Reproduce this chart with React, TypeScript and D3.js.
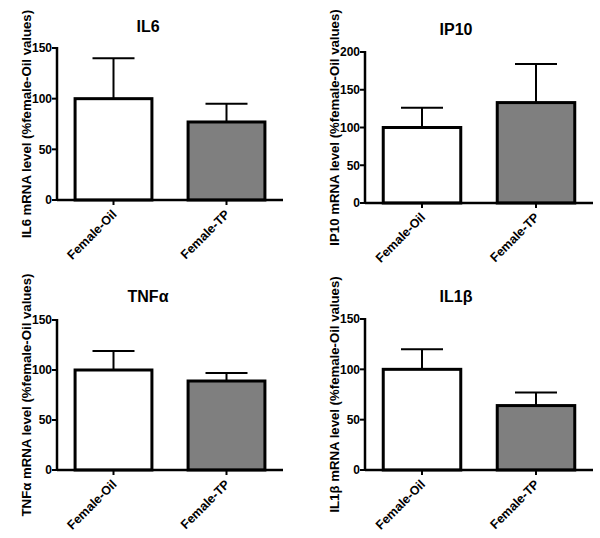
import React from "react";
import * as d3 from "d3";

const categories = ["Female-Oil", "Female-TP"];
const titles = ["IL6", "IP10", "TNFα", "IL1β"];
const yLabels = [
  "IL6 mRNA level (%female-Oil values)",
  "IP10 mRNA level (%female-Oil values)",
  "TNFα mRNA level (%female-Oil values)",
  "IL1β mRNA level (%female-Oil values)",
];
const il6Means = [100, 77];
const il6Errors = [40, 18];
const ip10Means = [100, 133];
const ip10Errors = [26, 51];
const tnfMeans = [100, 89];
const tnfErrors = [19, 8];
const il1bMeans = [100, 64];
const il1bErrors = [20, 13];
const yMaxes = [150, 200, 150, 150];
const tickSets = [
  [0, 50, 100, 150],
  [0, 50, 100, 150, 200],
  [0, 50, 100, 150],
  [0, 50, 100, 150],
];
const barFills = ["#ffffff", "#7f7f7f"];

const FONT = "Arial, Helvetica, sans-serif";

type PanelProps = {
  title: string;
  yLabel: string;
  means: number[];
  errors: number[];
  yMax: number;
  ticks: number[];
  axisX: number;
  xEnd: number;
  y0: number;
  yTop: number;
  titleY: number;
};

function Panel(p: PanelProps) {
  const x = d3
    .scaleBand<string>()
    .domain(categories)
    .range([p.axisX, p.xEnd])
    .paddingInner(0.32)
    .paddingOuter(0.16);
  const y = d3.scaleLinear().domain([0, p.yMax]).range([p.y0, p.yTop]);
  const bw = x.bandwidth();
  const cap = 42;
  return (
    <g>
      <text
        x={p.axisX + 91}
        y={p.titleY}
        textAnchor="middle"
        fontFamily={FONT}
        fontWeight="bold"
        fontSize={16}
      >
        {p.title}
      </text>
      <text
        transform={`translate(${p.axisX - 26},${(p.y0 + p.yTop) / 2}) rotate(-90)`}
        textAnchor="middle"
        fontFamily={FONT}
        fontWeight="bold"
        fontSize={13.2}
      >
        {p.yLabel}
      </text>
      {categories.map((c, i) => {
        const cx = (x(c) as number) + bw / 2;
        const top = y(p.means[i]);
        const errTop = y(p.means[i] + p.errors[i]);
        return (
          <g key={c}>
            <line x1={cx} x2={cx} y1={top} y2={errTop} stroke="#000" strokeWidth={2} />
            <line x1={cx - cap / 2} x2={cx + cap / 2} y1={errTop} y2={errTop} stroke="#000" strokeWidth={2} />
            <rect
              x={x(c) as number}
              y={top}
              width={bw}
              height={p.y0 - top}
              fill={barFills[i]}
              stroke="#000"
              strokeWidth={3}
            />
          </g>
        );
      })}
      <line x1={p.axisX} x2={p.axisX} y1={p.yTop - 1} y2={p.y0 + 1} stroke="#000" strokeWidth={2.5} />
      {p.ticks.map((t) => (
        <g key={t}>
          <line x1={p.axisX - 5} x2={p.axisX} y1={y(t)} y2={y(t)} stroke="#000" strokeWidth={2} />
          <text
            x={p.axisX - 5}
            y={y(t)}
            dy="0.36em"
            textAnchor="end"
            fontFamily={FONT}
            fontWeight="bold"
            fontSize={12}
          >
            {t}
          </text>
        </g>
      ))}
      <line x1={p.axisX} x2={p.xEnd} y1={p.y0} y2={p.y0} stroke="#000" strokeWidth={2.5} />
      {categories.map((c) => {
        const cx = (x(c) as number) + bw / 2;
        return (
          <g key={c}>
            <line x1={cx} x2={cx} y1={p.y0} y2={p.y0 + 5} stroke="#000" strokeWidth={2} />
            <text
              transform={`translate(${cx + 4},${p.y0 + 15}) rotate(-45)`}
              textAnchor="end"
              fontFamily={FONT}
              fontWeight="bold"
              fontSize={12.5}
            >
              {c}
            </text>
          </g>
        );
      })}
    </g>
  );
}

export default function App() {
  const panels = [
    { means: il6Means, errors: il6Errors, axisX: 57, xEnd: 283, y0: 200, yTop: 48, titleY: 32 },
    { means: ip10Means, errors: ip10Errors, axisX: 365, xEnd: 593, y0: 203, yTop: 52, titleY: 35 },
    { means: tnfMeans, errors: tnfErrors, axisX: 57, xEnd: 283, y0: 470, yTop: 320, titleY: 302 },
    { means: il1bMeans, errors: il1bErrors, axisX: 365, xEnd: 593, y0: 470, yTop: 319, titleY: 302 },
  ];
  return (
    <svg
      width={600}
      height={538}
      style={{ position: "absolute", left: 0, top: 0, background: "#fff" }}
    >
      <rect width={600} height={538} fill="#fff" />
      {panels.map((pp, i) => (
        <Panel
          key={i}
          title={titles[i]}
          yLabel={yLabels[i]}
          yMax={yMaxes[i]}
          ticks={tickSets[i]}
          {...pp}
        />
      ))}
    </svg>
  );
}
